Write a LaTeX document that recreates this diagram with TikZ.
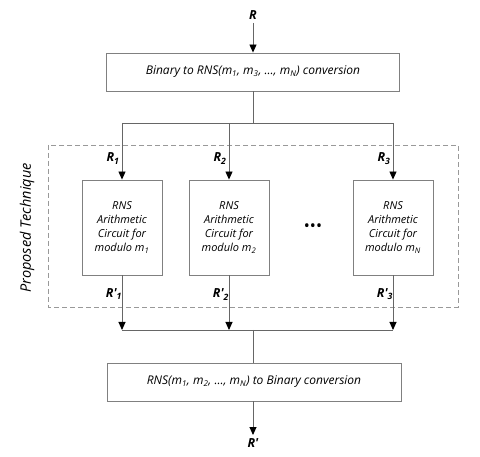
\documentclass[tikz,border=0pt]{standalone}
\usepackage{fontspec}
\setmainfont{Open Sans}
\usepackage{tikz}
\usetikzlibrary{arrows.meta}

\tikzset{
  wire/.style={draw=black!60, line width=0.9pt},
  flow/.style={wire, -{Triangle[black,width=7pt,length=8pt]}},
  block/.style={draw=black!50, line width=0.9pt, fill=white, inner sep=0pt,
    font=\fontsize{11}{14}\selectfont\itshape, align=center},
  sig/.style={font=\fontsize{12.5}{14}\selectfont\bfseries\itshape},
}

\begin{document}
\begin{tikzpicture}[x=1pt,y=-1pt]
\useasboundingbox (0,0) rectangle (480,457);

% Proposed technique frame
\draw[black!40, line width=0.9pt, dash pattern=on 5pt off 3pt] (48,145) rectangle (458,307);
\node[rotate=90, font=\fontsize{14.5}{16}\selectfont\itshape] (prop) at (27,228) {Proposed Technique};

% Converters
\node[block, font=\fontsize{12}{14}\selectfont\itshape, minimum width=293pt, minimum height=38pt] (bin2rns) at (253,72)
  {Binary to RNS(m\textsubscript{1}, m\textsubscript{3}, ..., m\textsubscript{N}) conversion};
\node[block, font=\fontsize{12}{14}\selectfont\itshape, minimum width=294pt, minimum height=38pt] (rns2bin) at (254,382)
  {RNS(m\textsubscript{1}, m\textsubscript{2}, ..., m\textsubscript{N}) to Binary conversion};

% Input and output
\node[sig] (R) at (253,15) {R};
\node[sig] (Rout) at (253,443) {R\textquotesingle};
\draw[flow] (R) -- (bin2rns);
\draw[flow] (rns2bin.south -| Rout) -- (Rout);

% Arithmetic circuits for each modulus
\foreach \n/\x/\m in {1/122/1, 2/229/2, 3/393/N} {
  \node[block, minimum width=80pt, minimum height=95pt] (circ\n) at (\x,227.5)
    {RNS\\Arithmetic\\Circuit for\\modulo m\textsubscript{\m}};
}
\node[font=\fontsize{16}{16}\selectfont] (dots) at (313,228) {\textbullet\textbullet\textbullet};

% Split into residues
\coordinate (split) at (253,123);
\draw[wire] (bin2rns.south -| split) -- (split);
\draw[wire] (split -| circ1) -- (split -| circ3);
\foreach \n in {1,2,3} {
  \draw[flow] (split -| circ\n) -- (circ\n.north);
  \node[sig] (in\n) at ([xshift=-9pt,yshift=21pt]circ\n.north) {R\textsubscript{\n}};
}

% Merge the results
\coordinate (merge) at (253,330);
\foreach \n in {1,2,3} {
  \draw[flow] (circ\n.south) -- (merge -| circ\n);
  \node[sig] (out\n) at ([xshift=-8pt,yshift=-19pt]circ\n.south) {R\textquotesingle\textsubscript{\n}};
}
\draw[wire] (merge -| circ1) -- (merge -| circ3);
\draw[wire] (merge) -- (rns2bin.north -| merge);
\end{tikzpicture}
\end{document}
